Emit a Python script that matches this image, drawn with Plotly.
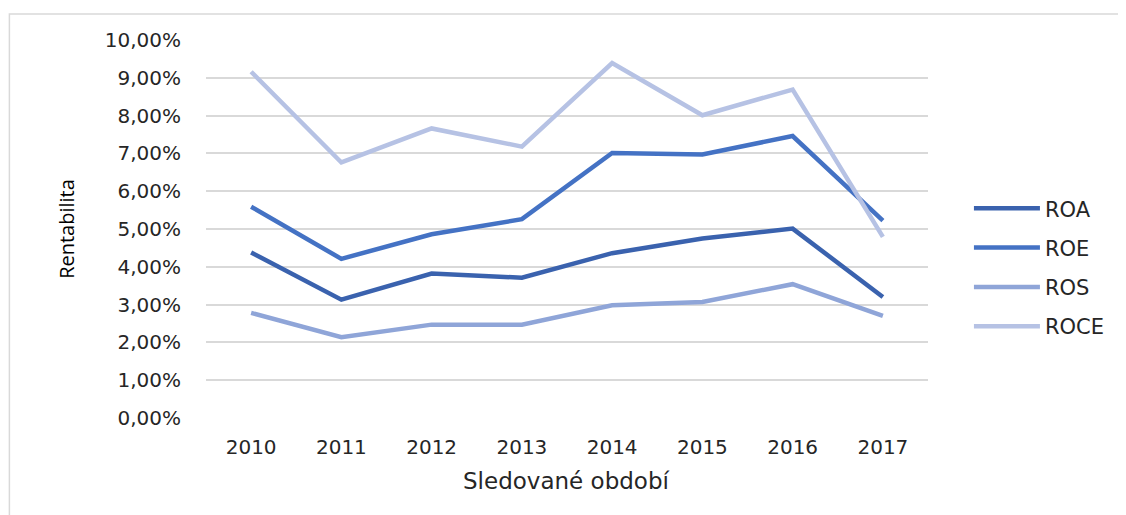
import plotly.graph_objects as go

years = ["2010", "2011", "2012", "2013", "2014", "2015", "2016", "2017"]
roa = [4.38, 3.13, 3.82, 3.71, 4.36, 4.75, 5.01, 3.20]
roe = [5.59, 4.21, 4.86, 5.26, 7.01, 6.97, 7.46, 5.22]
ros = [2.78, 2.14, 2.47, 2.47, 2.98, 3.07, 3.54, 2.70]
roce = [9.16, 6.76, 7.66, 7.18, 9.39, 8.01, 8.69, 4.79]

series = [
    ("ROA", roa, "#3A62AE"),
    ("ROE", roe, "#4472C4"),
    ("ROS", ros, "#8FA5D8"),
    ("ROCE", roce, "#B6C2E4"),
]

fig = go.Figure()
for name, vals, color in series:
    fig.add_trace(go.Scatter(
        x=years, y=[v / 100 for v in vals], name=name, mode="lines",
        line=dict(color=color, width=4.5), legendgroup=name,
    ))

tick_vals = [i / 100 for i in range(11)]
txt = "#262626"

fig.update_layout(
    width=1126, height=515,
    margin=dict(l=197.5, r=206, t=32, b=105.3),
    paper_bgcolor="white", plot_bgcolor="white",
    separators=", ",
    font=dict(family="DejaVu Sans", color=txt, size=20),
    showlegend=True,
    legend=dict(x=1.0567, y=0.3977, xanchor="left", yanchor="middle",
                font=dict(size=21, color=txt),
                tracegroupgap=9, itemwidth=66, bgcolor="rgba(0,0,0,0)"),
    xaxis=dict(type="category", range=[-0.5, 7.5], showgrid=False,
               showline=False, ticks="", ticklabelstandoff=15,
               tickfont=dict(size=20, color=txt)),
    yaxis=dict(range=[0, 0.1], tickvals=tick_vals, tickformat=".2%",
               showgrid=True, gridcolor="#D9D9D9", gridwidth=1.5,
               zeroline=False, showline=False, ticks="", ticklabelstandoff=24,
               tickfont=dict(size=20, color=txt),
               title=dict(text="Rentabilita", font=dict(family="Open Sans", size=20, color="#000000"), standoff=24)),
    annotations=[dict(text="Sledované období", xref="paper", yref="paper",
                      x=0.499, y=-0.1676, xanchor="center", yanchor="middle",
                      showarrow=False, font=dict(size=23, color=txt))],
    shapes=[dict(type="rect", xref="paper", yref="paper",
                 x0=-0.2723, x1=1.4, y0=-0.3, y1=1.0689,
                 line=dict(color="#D9D9D9", width=1.5), layer="below")],
)

fig.write_html("out.html")
